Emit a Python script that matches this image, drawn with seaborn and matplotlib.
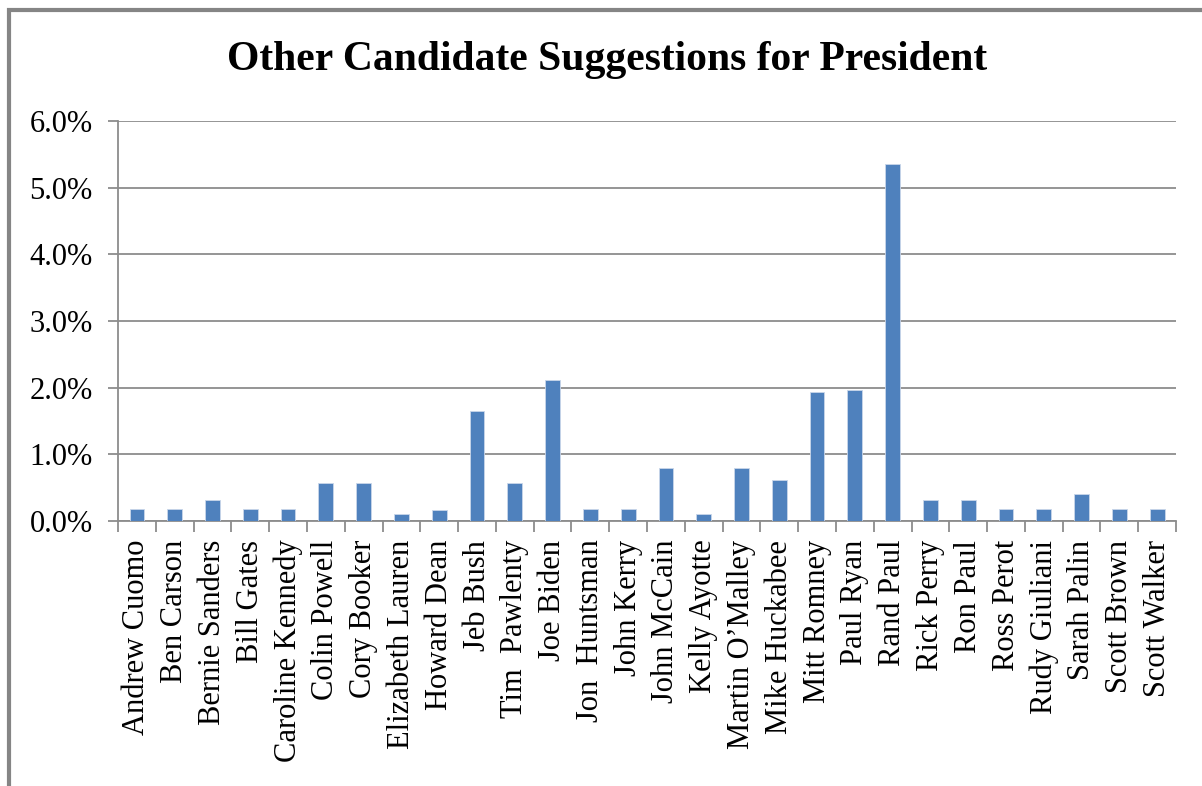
import numpy as np
import pandas as pd
import seaborn as sns
import matplotlib.pyplot as plt
from matplotlib.patches import Rectangle
from matplotlib.ticker import PercentFormatter, FixedLocator

# values (percent of responses)
candidates = [
    "Andrew Cuomo", "Ben Carson", "Bernie Sanders", "Bill Gates", "Caroline Kennedy",
    "Colin Powell", "Cory Booker", "Elizabeth Lauren", "Howard Dean", "Jeb Bush",
    "Tim  Pawlenty", "Joe Biden", "Jon  Huntsman", "John Kerry", "John McCain",
    "Kelly Ayotte", "Martin O\u2019Malley", "Mike Huckabee", "Mitt Romney", "Paul Ryan",
    "Rand Paul", "Rick Perry", "Ron Paul", "Ross Perot", "Rudy Giuliani",
    "Sarah Palin", "Scott Brown", "Scott Walker",
]
share = [
    0.18, 0.18, 0.31, 0.18, 0.18,
    0.57, 0.57, 0.11, 0.16, 1.65,
    0.57, 2.12, 0.18, 0.18, 0.79,
    0.11, 0.79, 0.61, 1.93, 1.97,
    5.35, 0.31, 0.31, 0.18, 0.18,
    0.40, 0.18, 0.18,
]
y_ticks = [0, 1, 2, 3, 4, 5, 6]

df = pd.DataFrame({"candidate": candidates, "share": share})

sns.set_style("white")
plt.rcParams["font.family"] = ["Liberation Serif", "DejaVu Serif"]
plt.rcParams["text.color"] = "black"
plt.rcParams["xtick.labelcolor"] = "black"
plt.rcParams["ytick.labelcolor"] = "black"

fig = plt.figure(figsize=(12.02, 7.86), dpi=100)
ax = fig.add_axes([0.0982, 0.3372, 0.8802, 0.5088])

grid_col = "#8c8c8c"
sns.barplot(data=df, x="candidate", y="share", color="#4f81bd", saturation=1,
            width=0.39, edgecolor="#c9d6ea", linewidth=0.6, ax=ax, zorder=3)

ax.set_ylim(0, 6)
ax.set_xlim(-0.5, len(candidates) - 0.5)
ax.yaxis.set_major_locator(FixedLocator(y_ticks))
ax.yaxis.set_major_formatter(PercentFormatter(decimals=1))
ax.yaxis.grid(True, color=grid_col, linewidth=1.3, zorder=0)
ax.set_axisbelow(True)

# category ticks sit between the bars, like the spreadsheet original
ax.set_xticks(np.arange(len(candidates)))
ax.set_xticklabels(candidates, rotation=90, va="top", ha="center")
ax.set_xticks(np.arange(len(candidates) + 1) - 0.5, minor=True)
ax.tick_params(axis="x", which="major", length=0, pad=13.5, labelsize=22, labelcolor="black")
ax.tick_params(axis="x", which="minor", length=8, width=1.3, color=grid_col, bottom=True)
ax.tick_params(axis="y", length=7.2, width=1.3, color=grid_col, pad=11, labelsize=22,
               labelcolor="black", left=True)

for side in ["top", "right"]:
    ax.spines[side].set_visible(False)
for side in ["left", "bottom"]:
    ax.spines[side].set_color(grid_col)
    ax.spines[side].set_linewidth(1.3)

ax.set_xlabel("")
ax.set_ylabel("")
fig.text(0.505, 0.924, "Other Candidate Suggestions for President",
         ha="center", va="center", fontsize=30, fontweight="bold", color="black")

# outer chart frame, cut off at right and bottom
fig.patches.append(Rectangle((0.0075, -0.05), 1.1, 0.0378 + 1.0, transform=fig.transFigure,
                             fill=False, edgecolor="#858585", linewidth=3, clip_on=False))

fig.savefig("out.png", dpi=100, facecolor="white")
